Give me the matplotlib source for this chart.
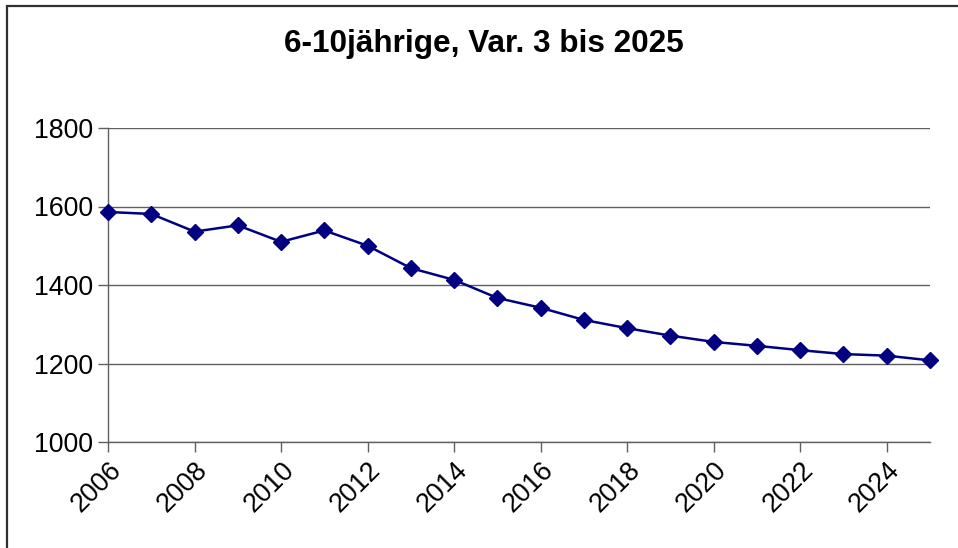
import matplotlib

matplotlib.use("Agg")
import matplotlib.pyplot as plt
from matplotlib.patches import Rectangle

plt.rcParams["font.family"] = ["Liberation Sans", "DejaVu Sans"]

years = list(range(2006, 2026))
kids = [1586, 1581, 1536, 1552, 1510, 1539, 1500, 1443, 1413, 1367,
        1342, 1311, 1290, 1271, 1255, 1245, 1234, 1224, 1220, 1208]
xticks = list(range(2006, 2026, 2))
yticks = [1000, 1200, 1400, 1600, 1800]

fig = plt.figure(figsize=(9.58, 5.48), dpi=100)
ax = fig.add_axes([108 / 958, 1 - 442 / 548, 822 / 958, 314 / 548])

ax.plot(years, kids, color="#000080", linewidth=1.8, marker="D",
        markersize=8.5, markerfacecolor="#000080", markeredgecolor="#000080",
        zorder=3, clip_on=False)

ax.set_xlim(2006, 2025)
ax.set_ylim(1000, 1800)
ax.set_yticks(yticks)
ax.set_xticks(xticks)
ax.set_xticklabels([str(x) for x in xticks], rotation=45, ha="right",
                   rotation_mode="anchor")
ax.tick_params(axis="both", labelsize=19.3, colors="#000000", length=7,
               width=1, direction="out", pad=4)
ax.tick_params(axis="both", color="#606060")
ax.grid(axis="y", color="#606060", linewidth=1)
ax.set_axisbelow(True)
for side in ("top", "right"):
    ax.spines[side].set_visible(False)
for side in ("left", "bottom"):
    ax.spines[side].set_color("#606060")
    ax.spines[side].set_linewidth(1)

fig.text(484 / 958, 1 - 44 / 548, "6-10jährige, Var. 3 bis 2025",
         ha="center", va="center", fontsize=22.7, fontweight="bold")

fig.patches.append(Rectangle((7 / 958, -0.1), 1.2, 1 - 6 / 548 + 0.1,
                             transform=fig.transFigure, fill=False,
                             edgecolor="#303030", linewidth=1.6))

fig.savefig("out.png", dpi=100)
